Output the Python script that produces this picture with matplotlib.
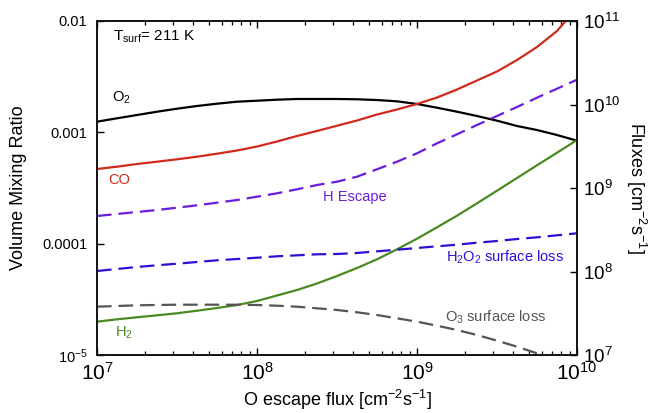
import numpy as np
import matplotlib
matplotlib.use("Agg")
import matplotlib.pyplot as plt
from matplotlib.ticker import LogLocator, FixedLocator, FuncFormatter, NullFormatter, NullLocator

plt.rcParams['font.family'] = ['Liberation Sans', 'DejaVu Sans']
plt.rcParams['mathtext.fontset'] = 'custom'
plt.rcParams['mathtext.rm'] = 'Liberation Sans'
plt.rcParams['mathtext.it'] = 'Liberation Sans:italic'
plt.rcParams['mathtext.bf'] = 'Liberation Sans:bold'
plt.rcParams['mathtext.default'] = 'regular'
plt.rcParams['lines.scale_dashes'] = False

# O escape flux [cm^-2 s^-1]
o_escape = [1.000e7, 1.334e7, 1.778e7, 2.371e7, 3.162e7, 4.217e7, 5.623e7, 7.499e7,
            1.000e8, 1.334e8, 1.778e8, 2.371e8, 3.162e8, 4.217e8, 5.623e8, 7.499e8,
            1.000e9, 1.334e9, 1.778e9, 2.371e9, 3.162e9, 4.217e9, 5.623e9, 7.499e9,
            1.000e10]

# Volume mixing ratios (left axis)
vmr_o2 = [1.246e-3, 1.337e-3, 1.431e-3, 1.532e-3, 1.630e-3, 1.724e-3, 1.808e-3, 1.884e-3,
          1.923e-3, 1.964e-3, 1.993e-3, 1.993e-3, 1.993e-3, 1.981e-3, 1.951e-3, 1.899e-3,
          1.797e-3, 1.664e-3, 1.532e-3, 1.402e-3, 1.272e-3, 1.140e-3, 1.049e-3, 9.46e-4,
          8.41e-4]
vmr_co = [4.685e-4, 4.913e-4, 5.194e-4, 5.447e-4, 5.724e-4, 6.040e-4, 6.428e-4, 6.868e-4,
          7.459e-4, 8.273e-4, 9.268e-4, 1.028e-3, 1.147e-3, 1.277e-3, 1.446e-3, 1.604e-3,
          1.797e-3, 2.055e-3, 2.425e-3, 2.921e-3, 3.519e-3, 4.464e-3, 5.840e-3, 8.134e-3,
          1.309e-2]
vmr_h2 = [1.991e-5, 2.092e-5, 2.181e-5, 2.273e-5, 2.369e-5, 2.499e-5, 2.643e-5, 2.812e-5,
          3.055e-5, 3.423e-5, 3.835e-5, 4.388e-5, 5.123e-5, 6.045e-5, 7.235e-5, 8.900e-5,
          1.108e-4, 1.403e-4, 1.783e-4, 2.304e-4, 2.990e-4, 3.888e-4, 5.057e-4, 6.561e-4,
          8.533e-4]

# Fluxes [cm^-2 s^-1] (right axis)
flux_h_escape = [4.620e8, 4.883e8, 5.160e8, 5.452e8, 5.809e8, 6.206e8, 6.668e8, 7.181e8,
                 7.866e8, 8.641e8, 9.647e8, 1.086e9, 1.190e9, 1.366e9, 1.675e9, 2.065e9,
                 2.604e9, 3.430e9, 4.397e9, 5.682e9, 7.285e9, 9.335e9, 1.206e10, 1.546e10,
                 1.982e10]
flux_h2o2_loss = [1.014e8, 1.072e8, 1.132e8, 1.187e8, 1.240e8, 1.300e8, 1.362e8, 1.411e8,
                  1.463e8, 1.521e8, 1.563e8, 1.607e8, 1.620e8, 1.666e8, 1.745e8, 1.824e8,
                  1.911e8, 2.003e8, 2.094e8, 2.212e8, 2.319e8, 2.450e8, 2.567e8, 2.713e8,
                  2.867e8]
flux_o3_loss = [3.788e7, 3.862e7, 3.937e7, 3.970e7, 4.003e7, 4.003e7, 4.003e7, 4.003e7,
                3.970e7, 3.894e7, 3.788e7, 3.626e7, 3.459e7, 3.247e7, 3.013e7, 2.751e7,
                2.506e7, 2.243e7, 1.993e7, 1.736e7, 1.484e7, 1.257e7, 1.048e7, 8.71e6,
                7.24e6]

left_ticks = [1e-5, 1e-4, 1e-3, 1e-2]
left_ticklabels = [r'10$^{-5}$', '0.0001', '0.001', '0.01']
right_ticks = [1e7, 1e8, 1e9, 1e10, 1e11]
x_ticks = [1e7, 1e8, 1e9, 1e10]

c_o2 = '#000000'
c_co = '#cf2a1c'
c_h2 = '#4a8a22'
c_hesc = '#6a1ddc'
c_h2o2 = '#2a12d4'
c_o3 = '#555555'

fig = plt.figure(figsize=(6.5, 4.13), dpi=100)
ax = fig.add_axes([97/650, 1-355/413, 480/650, 334/413])
ax2 = ax.twinx()

lw = 1.6
ax.plot(o_escape, vmr_o2, color=c_o2, lw=lw, zorder=3)
ax.plot(o_escape, vmr_co, color=c_co, lw=lw, zorder=3)
ax.plot(o_escape, vmr_h2, color=c_h2, lw=lw, zorder=3)

dash = (10.5, 5)
ax2.plot(o_escape, flux_h_escape, color=c_hesc, lw=lw, dashes=dash)
ax2.plot(o_escape, flux_h2o2_loss, color=c_h2o2, lw=lw, dashes=dash)
ax2.plot(o_escape, flux_o3_loss, color=c_o3, lw=lw, dashes=dash)

for a in (ax, ax2):
    a.set_xscale('log')
    a.set_yscale('log')
    a.set_xlim(1e7, 1e10)
ax.set_ylim(1e-5, 1e-2)
ax2.set_ylim(1e7, 1e11)

# x axis ticks
ax.xaxis.set_major_locator(FixedLocator(x_ticks))
ax.xaxis.set_minor_locator(LogLocator(base=10, subs=np.arange(2, 10)))
ax.xaxis.set_minor_formatter(NullFormatter())
ax.xaxis.set_major_formatter(FuncFormatter(lambda v, p: r'10$^{%d}$' % round(np.log10(v))))
ax.tick_params(axis='x', which='both', direction='in', top=True, bottom=True)
ax.tick_params(axis='x', which='major', length=5, width=1, labelsize=15, pad=5)
ax.tick_params(axis='x', which='minor', length=2.8, width=0.9)

# left axis ticks
ax.yaxis.set_major_locator(FixedLocator(left_ticks))
ax.yaxis.set_minor_locator(NullLocator())
ax.set_yticklabels(left_ticklabels)
ax.tick_params(axis='y', which='major', direction='in', length=5, width=1, labelsize=10.5, pad=7)

# right axis ticks
ax2.yaxis.set_major_locator(FixedLocator(right_ticks))
ax2.yaxis.set_minor_locator(NullLocator())
ax2.yaxis.set_major_formatter(FuncFormatter(lambda v, p: r'10$^{%d}$' % round(np.log10(v))))
ax2.tick_params(axis='y', which='major', direction='in', length=5, width=1, labelsize=13.5, pad=4)

for a in (ax, ax2):
    for s in a.spines.values():
        s.set_linewidth(1.2)
        s.set_color('#111111')

ax.set_ylabel('Volume Mixing Ratio', fontsize=13, va='center')
ax.yaxis.set_label_coords(-0.163, 0.5)
ax.set_xlabel(r'O escape flux [cm$^{-2}$s$^{-1}$]', fontsize=13, va='center')
ax.xaxis.set_label_coords(0.5, -0.135)
ax2.set_ylabel(r'Fluxes [cm$^{-2}$s$^{-1}$]', fontsize=13, rotation=-90, va='center')
ax2.yaxis.set_label_coords(1.122, 0.5)

# curve annotations
ax.text(0.033, 0.952, r'T$_{surf}$= 211 K', transform=ax.transAxes, fontsize=11,
        ha='left', va='center')
ax.text(0.031, 0.77, r'O$_2$', transform=ax.transAxes, fontsize=10.5, color=c_o2,
        ha='left', va='center')
ax.text(0.023, 0.524, 'CO', transform=ax.transAxes, fontsize=10.5, color=c_co,
        ha='left', va='center')
ax.text(0.471, 0.473, 'H Escape', transform=ax.transAxes, fontsize=10.5, color=c_hesc,
        ha='left', va='center')
ax.text(0.727, 0.293, r'H$_2$O$_2$ surface loss', transform=ax.transAxes, fontsize=10.5,
        color=c_h2o2, ha='left', va='center')
ax.text(0.725, 0.114, r'O$_3$ surface loss', transform=ax.transAxes, fontsize=10.5,
        color=c_o3, ha='left', va='center')
ax.text(0.0375, 0.066, r'H$_2$', transform=ax.transAxes, fontsize=10.5, color=c_h2,
        ha='left', va='center')

fig.savefig('out.png', dpi=100)
